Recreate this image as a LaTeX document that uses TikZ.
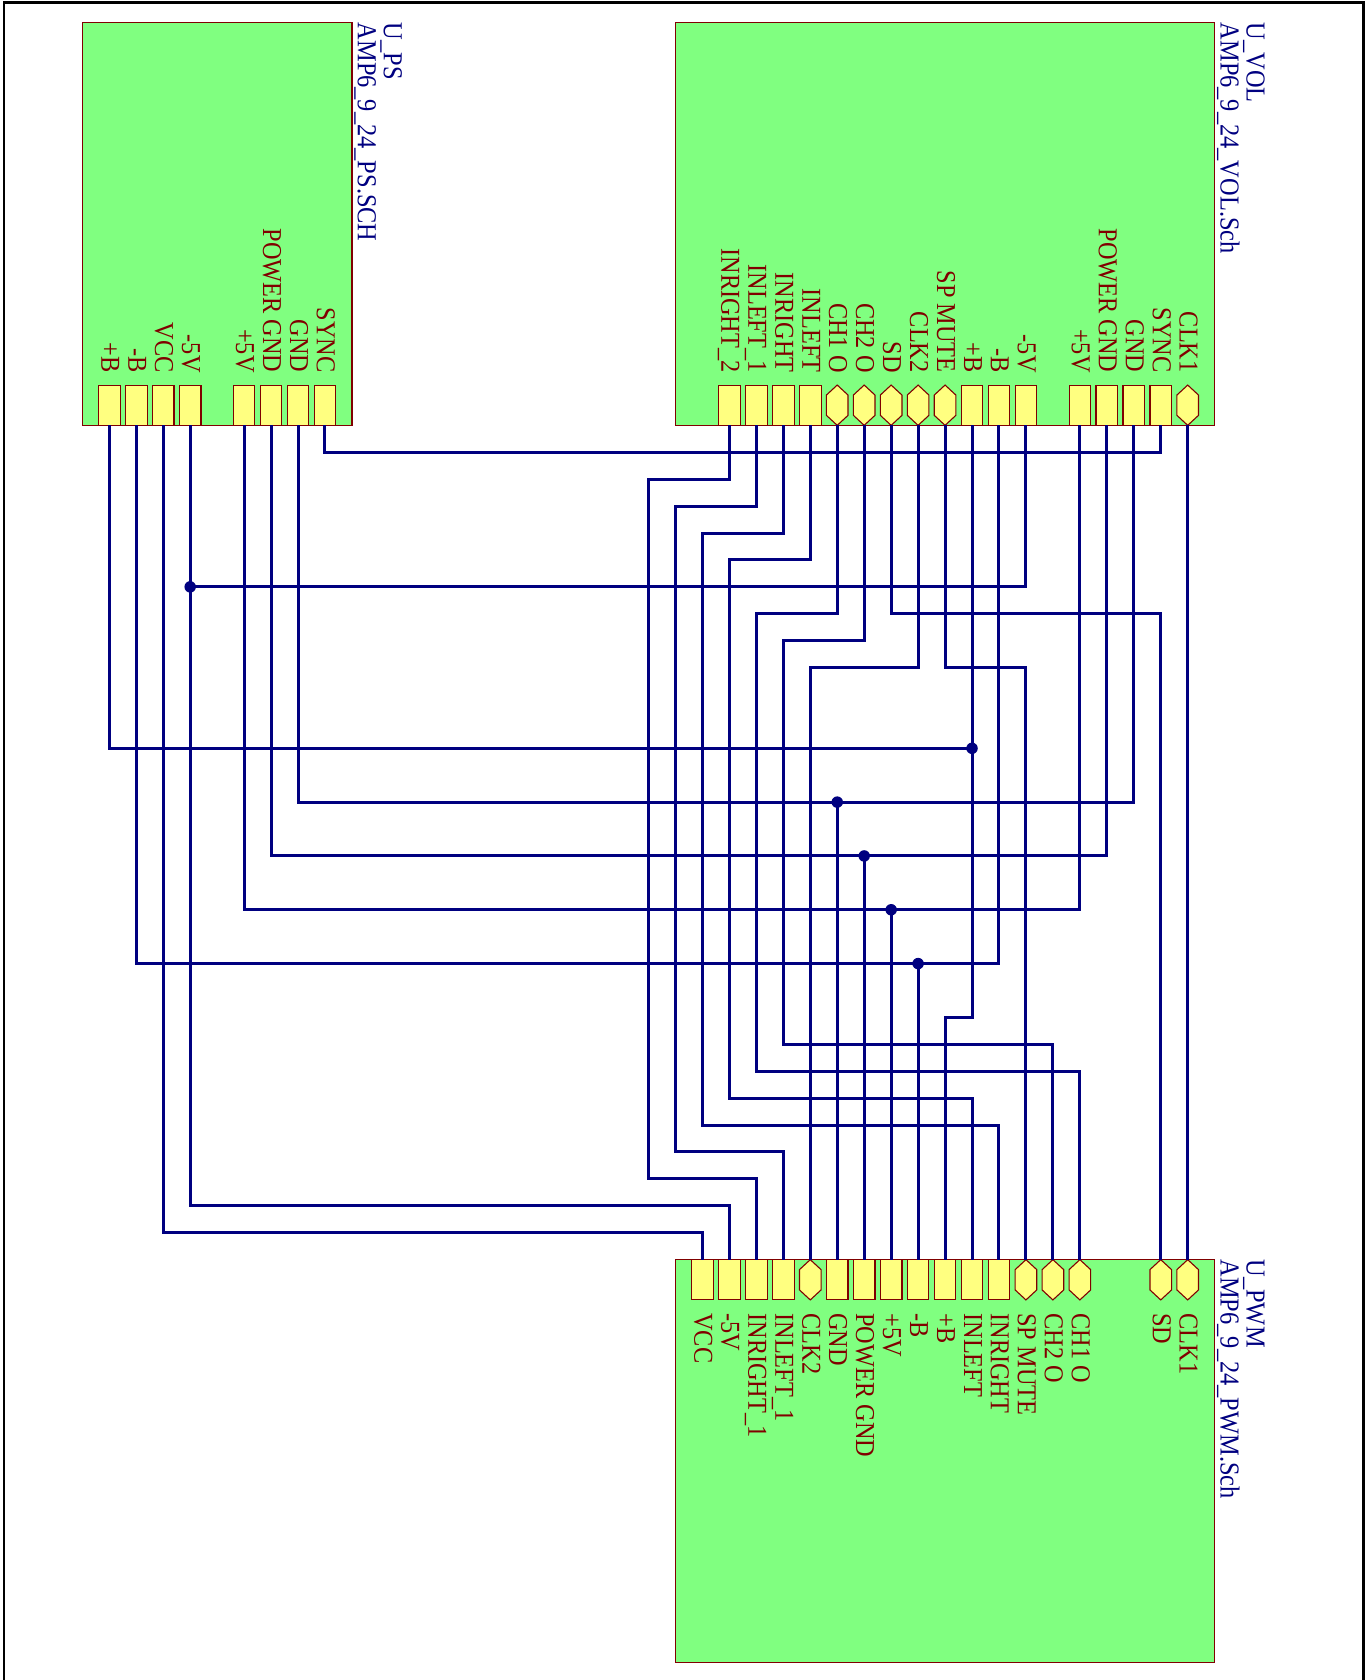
\documentclass[tikz,border=0pt]{standalone}
\usepackage{fontspec}
\setmainfont{Liberation Serif}
\newfontfamily\pinfont[FakeStretch=0.89]{Liberation Serif}
\newfontfamily\titlefont[FakeStretch=0.89,Kerning=Off]{Liberation Serif}
\definecolor{sheetgreen}{HTML}{80FF80}
\definecolor{pinyellow}{HTML}{FFFF80}
\definecolor{darkred}{HTML}{800000}
\definecolor{navy}{HTML}{000080}
\tikzset{
  sheetbox/.style={draw=darkred,fill=sheetgreen,line width=1.2pt,inner sep=0pt,outer sep=0pt,minimum height=402.6pt},
  rectpin/.style={draw=darkred,fill=pinyellow,line width=1.1pt,inner sep=0pt,outer sep=0pt,minimum width=21.6pt,minimum height=40.3pt},
  hexpin/.style={inner sep=0pt,outer sep=0pt,minimum width=21.6pt,minimum height=40.3pt},
  hexfill/.style={draw=darkred,fill=pinyellow,line width=1.1pt,line join=miter},
  pinlabel/.style={text=darkred,font=\pinfont\fontsize{27.3}{27.3}\selectfont,rotate=-90,inner sep=0pt,outer sep=0pt},
  titlelabel/.style={text=navy,font=\titlefont\fontsize{27.4}{27.4}\selectfont,rotate=-90,inner sep=0pt,outer sep=0pt,anchor=base west},
  wire/.style={draw=navy,line width=3pt,line join=miter},
  junction/.style={circle,fill=navy,inner sep=0pt,outer sep=0pt,minimum size=11.5pt},
  frameline/.style={draw=black,line width=2.8pt}
}
\newcommand\rpin[2]{\node[rectpin] (#1) at (#2) {};}
\newcommand\hpin[2]{\node[hexpin] (#1) at (#2) {};
  \path[hexfill] (#1.north) -- ([yshift=-10pt]#1.north east) -- ([yshift=10pt]#1.south east) -- (#1.south)
    -- ([yshift=10pt]#1.south west) -- ([yshift=-10pt]#1.north west) -- cycle;}
\newcommand\uplabel[2]{\node[pinlabel,anchor=base east] (#1L) at ([xshift=-8pt,yshift=12.5pt]#1.north) {#2};}
\newcommand\dnlabel[2]{\node[pinlabel,anchor=base west] (#1L) at ([xshift=-8pt,yshift=-13.5pt]#1.south) {#2};}
\begin{document}
\begin{tikzpicture}[x=26.96pt,y=-26.91pt]
\useasboundingbox (-109.3pt,452.3pt) rectangle (1262.7pt,-1227.7pt);
\fill[white] (-109.3pt,452.3pt) rectangle (1262.7pt,-1227.7pt);
\draw[frameline] (-105.3pt,-1227.7pt) -- (-105.3pt,449.6pt) -- (1254.2pt,449.6pt) -- (1254.2pt,-1227.7pt);

% sheets
\node[sheetbox,minimum width=269.6pt,yshift=-0.5pt] (PS) at (4,-8.5) {};
\node[sheetbox,minimum width=539.2pt,yshift=-0.5pt] (VOL) at (31,-8.5) {};
\node[sheetbox,minimum width=539.2pt,yshift=0.5pt] (PWM) at (31,37.5) {};

\node[titlelabel] (PSname) at ([xshift=32pt]PS.north east) {U\_PS};
\node[titlelabel] (PSfile) at ([xshift=6pt]PS.north east) {AMP6\_9\_24\_PS.SCH};
\node[titlelabel] (VOLname) at ([xshift=32pt]VOL.north east) {U\_VOL};
\node[titlelabel] (VOLfile) at ([xshift=6pt]VOL.north east) {AMP6\_9\_24\_VOL.Sch};
\node[titlelabel] (PWMname) at ([xshift=32pt]PWM.north east) {U\_PWM};
\node[titlelabel] (PWMfile) at ([xshift=6pt]PWM.north east) {AMP6\_9\_24\_PWM.Sch};

% PS pins
\rpin{psPB}{0,-1.75}\uplabel{psPB}{+B}
\rpin{psMB}{1,-1.75}\uplabel{psMB}{-B}
\rpin{psVCC}{2,-1.75}\uplabel{psVCC}{VCC}
\rpin{psMV}{3,-1.75}\uplabel{psMV}{-5V}
\rpin{psPV}{5,-1.75}\uplabel{psPV}{+5V}
\rpin{psPG}{6,-1.75}\uplabel{psPG}{POWER GND}
\rpin{psG}{7,-1.75}\uplabel{psG}{GND}
\rpin{psSY}{8,-1.75}\uplabel{psSY}{SYNC}

% VOL pins
\rpin{vIR2}{23,-1.75}\uplabel{vIR2}{INRIGHT\_2}
\rpin{vIL1}{24,-1.75}\uplabel{vIL1}{INLEFT\_1}
\rpin{vIR}{25,-1.75}\uplabel{vIR}{INRIGHT}
\rpin{vIL}{26,-1.75}\uplabel{vIL}{INLEFT}
\hpin{vCH1}{27,-1.75}\uplabel{vCH1}{CH1 O}
\hpin{vCH2}{28,-1.75}\uplabel{vCH2}{CH2 O}
\hpin{vSD}{29,-1.75}\uplabel{vSD}{SD}
\hpin{vCK2}{30,-1.75}\uplabel{vCK2}{CLK2}
\hpin{vSP}{31,-1.75}\uplabel{vSP}{SP MUTE}
\rpin{vPB}{32,-1.75}\uplabel{vPB}{+B}
\rpin{vMB}{33,-1.75}\uplabel{vMB}{-B}
\rpin{vMV}{34,-1.75}\uplabel{vMV}{-5V}
\rpin{vPV}{36,-1.75}\uplabel{vPV}{+5V}
\rpin{vPG}{37,-1.75}\uplabel{vPG}{POWER GND}
\rpin{vG}{38,-1.75}\uplabel{vG}{GND}
\rpin{vSY}{39,-1.75}\uplabel{vSY}{SYNC}
\hpin{vCK1}{40,-1.75}\uplabel{vCK1}{CLK1}

% PWM pins
\rpin{pVCC}{22,30.75}\dnlabel{pVCC}{VCC}
\rpin{pMV}{23,30.75}\dnlabel{pMV}{-5V}
\rpin{pIR1}{24,30.75}\dnlabel{pIR1}{INRIGHT\_1}
\rpin{pIL1}{25,30.75}\dnlabel{pIL1}{INLEFT\_1}
\hpin{pCK2}{26,30.75}\dnlabel{pCK2}{CLK2}
\rpin{pG}{27,30.75}\dnlabel{pG}{GND}
\rpin{pPG}{28,30.75}\dnlabel{pPG}{POWER GND}
\rpin{pPV}{29,30.75}\dnlabel{pPV}{+5V}
\rpin{pMB}{30,30.75}\dnlabel{pMB}{-B}
\rpin{pPB}{31,30.75}\dnlabel{pPB}{+B}
\rpin{pIL}{32,30.75}\dnlabel{pIL}{INLEFT}
\rpin{pIR}{33,30.75}\dnlabel{pIR}{INRIGHT}
\hpin{pSP}{34,30.75}\dnlabel{pSP}{SP MUTE}
\hpin{pCH2}{35,30.75}\dnlabel{pCH2}{CH2 O}
\hpin{pCH1}{36,30.75}\dnlabel{pCH1}{CH1 O}
\hpin{pSD}{39,30.75}\dnlabel{pSD}{SD}
\hpin{pCK1}{40,30.75}\dnlabel{pCK1}{CLK1}

% junctions
\node[junction] (jMV) at (3,5) {};
\node[junction] (jPB) at (32,11) {};
\node[junction] (jG) at (27,13) {};
\node[junction] (jPG) at (28,15) {};
\node[junction] (jPV) at (29,17) {};
\node[junction] (jMB) at (30,19) {};

% wires
\draw[wire] (psSY.south) |- (39,0) -- (vSY.south);
\draw[wire] (vIR2.south) |- (20,1) |- (24,27) -- (pIR1.north);
\draw[wire] (vIL1.south) |- (21,2) |- (25,26) -- (pIL1.north);
\draw[wire] (vIR.south) |- (22,3) |- (33,25) -- (pIR.north);
\draw[wire] (vIL.south) |- (23,4) |- (32,24) -- (pIL.north);
\draw[wire] (vCH1.south) |- (24,6) |- (36,23) -- (pCH1.north);
\draw[wire] (vCH2.south) |- (25,7) |- (35,22) -- (pCH2.north);
\draw[wire] (vSD.south) |- (39,6) -- (pSD.north);
\draw[wire] (vCK2.south) |- (26,8) -- (pCK2.north);
\draw[wire] (vSP.south) |- (34,8) -- (pSP.north);
\draw[wire] (vPB.south) |- (31,21) -- (pPB.north);
\draw[wire] (psPB.south) |- (jPB.center);
\draw[wire] (vMB.south) |- (psMB.south |- jMB.center) -- (psMB.south);
\draw[wire] (jMB.center) -- (pMB.north);
\draw[wire] (vMV.south) |- (jMV.center);
\draw[wire] (psMV.south) |- (23,28) -- (pMV.north);
\draw[wire] (vPV.south) |- (psPV.south |- jPV.center) -- (psPV.south);
\draw[wire] (jPV.center) -- (pPV.north);
\draw[wire] (vPG.south) |- (psPG.south |- jPG.center) -- (psPG.south);
\draw[wire] (jPG.center) -- (pPG.north);
\draw[wire] (vG.south) |- (psG.south |- jG.center) -- (psG.south);
\draw[wire] (jG.center) -- (pG.north);
\draw[wire] (vCK1.south) -- (pCK1.north);
\draw[wire] (psVCC.south) |- (22,29) -- (pVCC.north);
\end{tikzpicture}
\end{document}
